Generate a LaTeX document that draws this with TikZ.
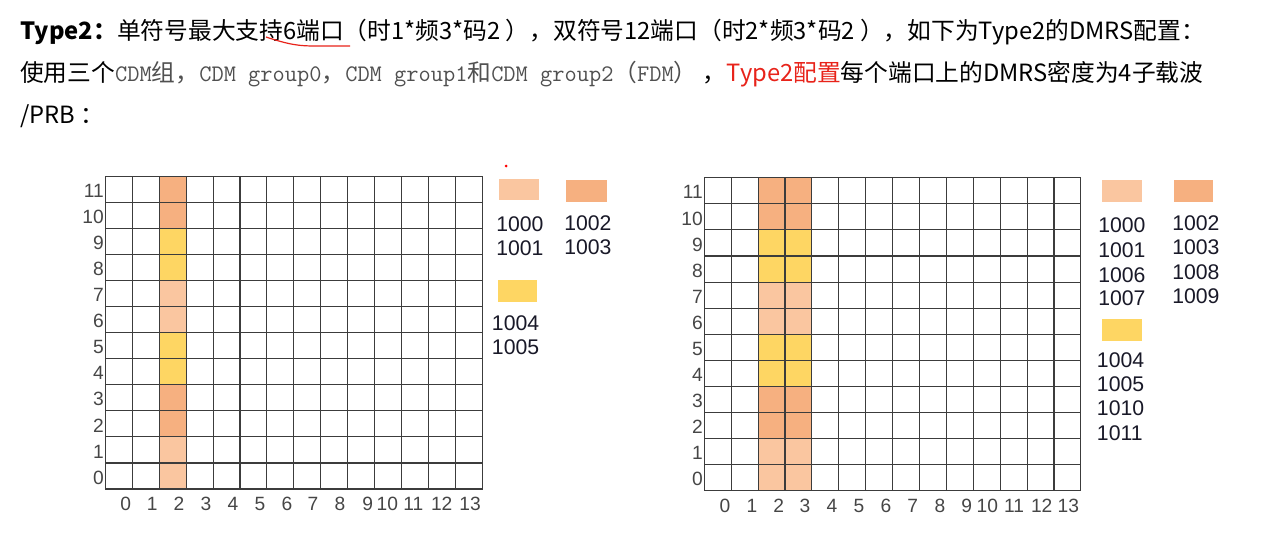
\documentclass[tikz,border=0pt]{standalone}
\usepackage{fontspec}
\setmainfont{Noto Sans CJK SC}
\newfontfamily\labfont{Liberation Sans}
\definecolor{lt}{RGB}{250,198,160}
\definecolor{dk}{RGB}{246,176,128}
\definecolor{yl}{RGB}{254,214,99}
\definecolor{gridc}{RGB}{60,60,60}
\definecolor{axc}{RGB}{70,70,70}
\definecolor{greyt}{RGB}{80,80,80}
\definecolor{redt}{RGB}{232,35,26}
\definecolor{legt}{RGB}{25,25,40}
\begin{document}
\begin{tikzpicture}[x=0.75pt,y=-0.75pt,
  gl/.style={gridc,line width=0.8pt},
  head/.style={anchor=base west,inner sep=0pt,font=\fontsize{17.8}{20}\selectfont},
  axl/.style={inner sep=0pt,text=axc,font=\labfont\fontsize{14.4}{16}\selectfont},
  legl/.style={anchor=west,inner sep=0pt,text=legt,font=\labfont\fontsize{15.9}{18}\selectfont},
  sw/.style={draw=none}]
\useasboundingbox[fill=white] (0,0) rectangle (1274,543);

% header text
\node[head] (h1) at (20,39) {\textbf{Type2：}单符号最大支持6端口（时1*频3*码2 ），双符号12端口（时2*频3*码2 ），如下为Type2的DMRS配置：};
\node[head] (h2) at (20,81) {使用三个{\color{greyt}{\ttfamily CDM}组，{\ttfamily CDM group0}，{\ttfamily CDM group1}和{\ttfamily CDM group2}（{\ttfamily FDM}）} ，{\color{redt}Type2配置}每个端口上的DMRS密度为4子载波};
\node[head] (h3) at (20,123) {/PRB ：};
\draw[redt,line width=0.9pt] (266,37) .. controls (290,45) and (300,46) .. (315,46) -- (350,46);

% ---------- left grid ----------
\foreach \r/\c in {0/lt,1/lt,2/dk,3/dk,4/yl,5/yl,6/lt,7/lt,8/yl,9/yl,10/dk,11/dk}
  \fill[\c] (105.3+2*26.94,489-\r*26.04) rectangle ++(26.94,-26.04);
\foreach \i in {0,...,14} \draw[gl] (105.3+\i*26.94,176.5) -- (105.3+\i*26.94,489);
\foreach \j in {0,...,12} \draw[gl] (105.3,489-\j*26.04) -- (482.5,489-\j*26.04);
\foreach \j in {0,...,11}
  \node[axl,anchor=east] (LY\j) at (104,489-\j*26.04-11.5) {\j};
\foreach \k/\x in {0/125.7,1/152.3,2/179,3/206,4/233,5/260,6/287,7/313,8/340,9/367.7,10/387.3,11/413.3,12/441.7,13/470}
  \node[axl] (LX\k) at (\x,504) {\k};

% left legend
\fill[red] (506,166) circle (1.5);
\fill[lt] (499,179) rectangle (539,200);
\fill[dk] (566,180) rectangle (606.7,202);
\node[legl] (la0) at (496,224) {1000};
\node[legl] (la1) at (496,248) {1001};
\node[legl] (lb0) at (564,222.7) {1002};
\node[legl] (lb1) at (564,246.7) {1003};
\fill[yl] (497.7,280) rectangle (537.3,301.7);
\node[legl] (lc0) at (491.7,322.7) {1004};
\node[legl] (lc1) at (491.7,346.7) {1005};

% ---------- right grid ----------
\foreach \r/\c in {0/lt,1/lt,2/dk,3/dk,4/yl,5/yl,6/lt,7/lt,8/yl,9/yl,10/dk,11/dk}
  \fill[\c] (704.3+2*26.9,490.7-\r*26.08) rectangle ++(2*26.9,-26.08);
\foreach \i in {0,...,14} \draw[gl] (704.3+\i*26.9,177.7) -- (704.3+\i*26.9,490.7);
\foreach \j in {0,...,12} \draw[gl] (704.3,490.7-\j*26.08) -- (1081,490.7-\j*26.08);
\foreach \j in {0,...,11}
  \node[axl,anchor=east] (RY\j) at (703,490.7-\j*26.08-11.5) {\j};
\foreach \k/\x in {0/725,1/752,2/778.7,3/805,4/832,5/859,6/886,7/912.7,8/940,9/966.7,10/987.3,11/1014,12/1041.7,13/1068.3}
  \node[axl] (RX\k) at (\x,505.7) {\k};

% right legend
\fill[lt] (1101.7,180) rectangle (1141.7,202.3);
\fill[dk] (1174,180) rectangle (1213.3,202.3);
\foreach \t/\y [count=\n] in {1000/225,1001/250,1006/275,1007/298}
  \node[legl] (ra\n) at (1098,\y) {\t};
\foreach \t/\y [count=\n] in {1002/222.7,1003/247.3,1008/272,1009/296}
  \node[legl] (rb\n) at (1172,\y) {\t};
\fill[yl] (1101.7,319.3) rectangle (1142.3,340.7);
\foreach \t/\y [count=\n] in {1004/360,1005/384,1010/408,1011/432.7}
  \node[legl] (rc\n) at (1096.7,\y) {\t};
\end{tikzpicture}
\end{document}
